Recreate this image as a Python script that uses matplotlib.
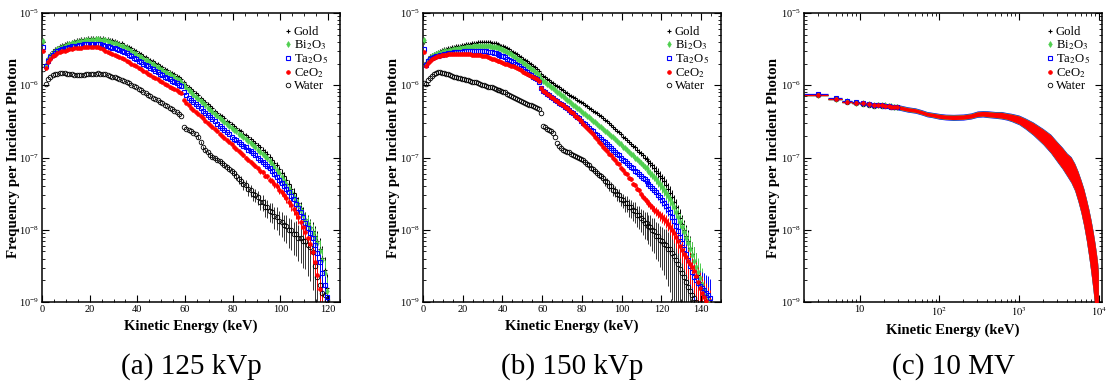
import numpy as np
import matplotlib
matplotlib.use('Agg')
import matplotlib.pyplot as plt
from matplotlib.lines import Line2D
from matplotlib.ticker import MultipleLocator, LogLocator, FuncFormatter, NullFormatter

plt.rcParams['font.family'] = ['Liberation Serif', 'DejaVu Serif']
plt.rcParams['mathtext.fontset'] = 'stix'

# ---------------- data (log10 of frequency per incident photon) ----------------
# (a) 125 kVp, 1 keV bins centred at 0.5 ... 119.5
energy_a = np.arange(120) + 0.5
gold_a = [-5.40, -5.70, -5.62, -5.57, -5.53, -5.50, -5.48, -5.46, -5.44, -5.43,
          -5.42, -5.41, -5.40, -5.39, -5.38, -5.37, -5.365, -5.36, -5.355, -5.35,
          -5.345, -5.34, -5.34, -5.34, -5.345, -5.35, -5.355, -5.36, -5.37, -5.38,
          -5.39, -5.40, -5.41, -5.42, -5.44, -5.455, -5.47, -5.49, -5.51, -5.53,
          -5.55, -5.57, -5.59, -5.61, -5.63, -5.65, -5.67, -5.69, -5.71, -5.73,
          -5.75, -5.77, -5.79, -5.81, -5.83, -5.85, -5.87, -5.89, -5.92, -5.96,
          -5.99, -6.02, -6.05, -6.08, -6.11, -6.14, -6.17, -6.20, -6.23, -6.26,
          -6.29, -6.32, -6.35, -6.38, -6.41, -6.43, -6.46, -6.49, -6.51, -6.54,
          -6.57, -6.59, -6.62, -6.64, -6.67, -6.69, -6.72, -6.74, -6.77, -6.80,
          -6.83, -6.86, -6.89, -6.92, -6.95, -6.99, -7.03, -7.07, -7.11, -7.16,
          -7.21, -7.26, -7.31, -7.37, -7.43, -7.49, -7.56, -7.63, -7.70, -7.78,
          -7.85, -7.90, -7.96, -8.02, -8.08, -8.16, -8.26, -8.39, -8.56, -8.80]
bi2o3_a = [-5.39, -5.72, -5.64, -5.59, -5.555, -5.525, -5.50, -5.48, -5.465, -5.45,
           -5.44, -5.43, -5.42, -5.41, -5.40, -5.395, -5.39, -5.385, -5.38, -5.375,
           -5.37, -5.37, -5.365, -5.365, -5.37, -5.375, -5.38, -5.39, -5.40, -5.41,
           -5.42, -5.43, -5.44, -5.455, -5.47, -5.49, -5.51, -5.53, -5.55, -5.57,
           -5.59, -5.61, -5.63, -5.65, -5.67, -5.69, -5.71, -5.73, -5.75, -5.77,
           -5.79, -5.81, -5.83, -5.85, -5.87, -5.89, -5.91, -5.93, -5.96, -6.00,
           -6.04, -6.07, -6.10, -6.13, -6.16, -6.19, -6.22, -6.25, -6.28, -6.31,
           -6.34, -6.37, -6.40, -6.43, -6.46, -6.48, -6.51, -6.54, -6.56, -6.59,
           -6.62, -6.64, -6.67, -6.69, -6.72, -6.74, -6.77, -6.80, -6.83, -6.86,
           -6.89, -6.92, -6.95, -6.98, -7.01, -7.05, -7.09, -7.13, -7.17, -7.22,
           -7.27, -7.32, -7.37, -7.42, -7.48, -7.54, -7.60, -7.66, -7.73, -7.80,
           -7.86, -7.92, -7.98, -8.04, -8.11, -8.19, -8.29, -8.42, -8.60, -8.85]
ta2o5_a = [-5.47, -5.74, -5.66, -5.61, -5.58, -5.55, -5.53, -5.51, -5.50, -5.49,
           -5.48, -5.47, -5.46, -5.455, -5.45, -5.445, -5.44, -5.435, -5.43, -5.43,
           -5.425, -5.425, -5.425, -5.425, -5.43, -5.44, -5.45, -5.46, -5.47, -5.48,
           -5.49, -5.50, -5.51, -5.525, -5.54, -5.56, -5.58, -5.60, -5.62, -5.64,
           -5.66, -5.68, -5.70, -5.72, -5.74, -5.76, -5.78, -5.80, -5.82, -5.84,
           -5.86, -5.88, -5.90, -5.92, -5.94, -5.955, -5.97, -5.99, -6.01, -6.10,
           -6.14, -6.17, -6.20, -6.23, -6.26, -6.29, -6.32, -6.35, -6.38, -6.41,
           -6.44, -6.47, -6.50, -6.53, -6.56, -6.59, -6.62, -6.65, -6.68, -6.71,
           -6.74, -6.76, -6.79, -6.81, -6.84, -6.86, -6.89, -6.91, -6.94, -6.97,
           -7.00, -7.03, -7.06, -7.09, -7.12, -7.15, -7.19, -7.23, -7.27, -7.31,
           -7.35, -7.39, -7.43, -7.48, -7.53, -7.58, -7.64, -7.70, -7.76, -7.83,
           -7.90, -7.97, -8.04, -8.12, -8.21, -8.32, -8.45, -8.60, -8.76, -8.93]
ceo2_a = [-5.52, -5.76, -5.68, -5.63, -5.60, -5.58, -5.56, -5.545, -5.53, -5.52,
          -5.51, -5.50, -5.495, -5.49, -5.485, -5.48, -5.48, -5.475, -5.475, -5.47,
          -5.47, -5.47, -5.47, -5.475, -5.48, -5.50, -5.52, -5.535, -5.55, -5.565,
          -5.58, -5.595, -5.61, -5.625, -5.64, -5.66, -5.68, -5.70, -5.72, -5.74,
          -5.76, -5.78, -5.80, -5.82, -5.84, -5.86, -5.88, -5.90, -5.92, -5.94,
          -5.96, -5.98, -6.00, -6.02, -6.04, -6.055, -6.07, -6.09, -6.11, -6.21,
          -6.25, -6.28, -6.31, -6.34, -6.37, -6.40, -6.43, -6.46, -6.49, -6.52,
          -6.55, -6.58, -6.61, -6.64, -6.67, -6.70, -6.73, -6.76, -6.79, -6.82,
          -6.85, -6.88, -6.91, -6.94, -6.97, -7.00, -7.03, -7.06, -7.09, -7.12,
          -7.15, -7.19, -7.20, -7.25, -7.26, -7.31, -7.32, -7.37, -7.39, -7.45,
          -7.48, -7.52, -7.56, -7.61, -7.66, -7.71, -7.77, -7.83, -7.89, -7.96,
          -8.03, -8.11, -8.20, -8.31, -8.45, -8.62, -8.82, -9.05, -9.30, -9.50]
water_a = [-5.77, -5.98, -5.92, -5.88, -5.86, -5.85, -5.84, -5.83, -5.83, -5.835,
           -5.84, -5.845, -5.85, -5.855, -5.86, -5.86, -5.855, -5.855, -5.85, -5.85,
           -5.845, -5.84, -5.84, -5.835, -5.84, -5.845, -5.85, -5.86, -5.87, -5.88,
           -5.89, -5.90, -5.91, -5.925, -5.94, -5.955, -5.97, -5.99, -6.01, -6.03,
           -6.05, -6.07, -6.09, -6.11, -6.13, -6.15, -6.17, -6.19, -6.21, -6.23,
           -6.25, -6.27, -6.29, -6.31, -6.33, -6.35, -6.37, -6.40, -6.43, -6.58,
           -6.60, -6.62, -6.64, -6.66, -6.68, -6.72, -6.79, -6.86, -6.90, -6.93,
           -6.96, -6.99, -7.01, -7.03, -7.05, -7.07, -7.10, -7.13, -7.16, -7.19,
           -7.22, -7.25, -7.30, -7.32, -7.37, -7.38, -7.44, -7.45, -7.51, -7.52,
           -7.55, -7.61, -7.62, -7.68, -7.69, -7.74, -7.75, -7.81, -7.82, -7.88,
           -7.89, -7.94, -7.95, -8.00, -8.01, -8.06, -8.06, -8.11, -8.11, -8.15,
           -8.15, -8.21, -8.24, -8.31, -8.50, -8.66, -8.77, -8.87, -8.91, -8.97]
# relative statistical errors
rel_err_metal_a = [0.0] * 80 + [
    0.03, 0.03, 0.03, 0.04, 0.04, 0.04, 0.05, 0.05, 0.05, 0.06,
    0.06, 0.07, 0.07, 0.08, 0.08, 0.09, 0.09, 0.10, 0.11, 0.12,
    0.12, 0.13, 0.14, 0.15, 0.16, 0.17, 0.18, 0.20, 0.21, 0.23,
    0.25, 0.27, 0.29, 0.32, 0.35, 0.38, 0.42, 0.46, 0.50, 0.55]
rel_err_water_a = [0.0] * 65 + [
    0.04, 0.04, 0.05, 0.05, 0.05, 0.06, 0.06, 0.07, 0.07, 0.08,
    0.08, 0.09, 0.09, 0.10, 0.11, 0.12, 0.13, 0.14, 0.15, 0.16,
    0.17, 0.18, 0.19, 0.20, 0.21, 0.22, 0.24, 0.25, 0.27, 0.28,
    0.30, 0.31, 0.33, 0.35, 0.36, 0.38, 0.40, 0.42, 0.44, 0.46,
    0.48, 0.50, 0.52, 0.55, 0.58, 0.60, 0.63, 0.66, 0.70, 0.74,
    0.78, 0.82, 0.86, 0.90, 0.92]

# (b) 150 kVp, 1 keV bins centred at 0.5 ... 144.5
energy_b = np.arange(145) + 0.5
gold_b = [-5.40, -5.68, -5.63, -5.60, -5.58, -5.565, -5.55, -5.535, -5.52, -5.51,
          -5.50, -5.495, -5.49, -5.48, -5.475, -5.47, -5.46, -5.455, -5.45, -5.445,
          -5.44, -5.435, -5.43, -5.425, -5.42, -5.415, -5.41, -5.405, -5.40, -5.40,
          -5.40, -5.40, -5.40, -5.405, -5.41, -5.415, -5.42, -5.43, -5.44, -5.45,
          -5.46, -5.475, -5.49, -5.505, -5.52, -5.535, -5.55, -5.57, -5.59, -5.61,
          -5.63, -5.65, -5.67, -5.69, -5.71, -5.73, -5.75, -5.77, -5.80, -5.84,
          -5.87, -5.89, -5.91, -5.93, -5.95, -5.97, -5.99, -6.01, -6.03, -6.05,
          -6.07, -6.09, -6.11, -6.13, -6.145, -6.16, -6.18, -6.20, -6.215, -6.23,
          -6.25, -6.27, -6.29, -6.31, -6.33, -6.35, -6.37, -6.39, -6.41, -6.43,
          -6.46, -6.48, -6.50, -6.52, -6.55, -6.58, -6.60, -6.63, -6.65, -6.68,
          -6.71, -6.73, -6.76, -6.78, -6.81, -6.84, -6.86, -6.89, -6.92, -6.94,
          -6.97, -7.00, -7.02, -7.05, -7.08, -7.11, -7.14, -7.18, -7.21, -7.25,
          -7.29, -7.33, -7.38, -7.43, -7.49, -7.55, -7.62, -7.69, -7.77, -7.84,
          -7.92, -8.00, -8.08, -8.16, -8.25, -8.34, -8.43, -8.52, -8.62, -8.72,
          -8.82, -8.90, -8.97, -9.05, -9.10]
bi2o3_b = [-5.38, -5.70, -5.65, -5.62, -5.60, -5.585, -5.57, -5.56, -5.55, -5.54,
           -5.53, -5.525, -5.52, -5.515, -5.51, -5.505, -5.50, -5.495, -5.49, -5.485,
           -5.48, -5.475, -5.47, -5.47, -5.465, -5.46, -5.46, -5.455, -5.455, -5.455,
           -5.455, -5.455, -5.455, -5.46, -5.465, -5.47, -5.475, -5.48, -5.49, -5.50,
           -5.51, -5.525, -5.54, -5.555, -5.57, -5.59, -5.61, -5.63, -5.65, -5.67,
           -5.69, -5.71, -5.73, -5.75, -5.77, -5.79, -5.81, -5.83, -5.86, -5.91,
           -5.94, -5.96, -5.98, -6.00, -6.02, -6.04, -6.065, -6.09, -6.11, -6.13,
           -6.155, -6.18, -6.20, -6.22, -6.245, -6.27, -6.29, -6.31, -6.335, -6.36,
           -6.38, -6.40, -6.42, -6.44, -6.47, -6.49, -6.51, -6.53, -6.56, -6.58,
           -6.60, -6.63, -6.65, -6.67, -6.70, -6.72, -6.75, -6.77, -6.80, -6.82,
           -6.85, -6.87, -6.90, -6.92, -6.95, -6.97, -7.00, -7.02, -7.05, -7.07,
           -7.10, -7.13, -7.15, -7.18, -7.21, -7.24, -7.27, -7.30, -7.34, -7.37,
           -7.41, -7.45, -7.49, -7.53, -7.58, -7.63, -7.69, -7.75, -7.82, -7.89,
           -7.96, -8.03, -8.11, -8.19, -8.27, -8.35, -8.43, -8.51, -8.59, -8.67,
           -8.75, -8.83, -8.90, -8.97, -9.05]
ta2o5_b = [-5.50, -5.72, -5.67, -5.64, -5.62, -5.61, -5.60, -5.59, -5.58, -5.575,
           -5.57, -5.565, -5.56, -5.555, -5.55, -5.545, -5.54, -5.54, -5.535, -5.535,
           -5.53, -5.53, -5.53, -5.525, -5.525, -5.525, -5.525, -5.525, -5.525, -5.525,
           -5.53, -5.53, -5.535, -5.54, -5.545, -5.55, -5.56, -5.57, -5.58, -5.59,
           -5.60, -5.615, -5.63, -5.645, -5.66, -5.68, -5.70, -5.72, -5.74, -5.76,
           -5.78, -5.80, -5.82, -5.84, -5.86, -5.88, -5.90, -5.92, -5.95, -6.04,
           -6.08, -6.10, -6.12, -6.14, -6.16, -6.18, -6.20, -6.22, -6.24, -6.26,
           -6.28, -6.30, -6.32, -6.34, -6.37, -6.39, -6.41, -6.44, -6.46, -6.49,
           -6.52, -6.54, -6.57, -6.59, -6.62, -6.64, -6.67, -6.69, -6.72, -6.74,
           -6.77, -6.79, -6.82, -6.84, -6.87, -6.89, -6.92, -6.95, -6.97, -7.00,
           -7.03, -7.05, -7.08, -7.10, -7.13, -7.15, -7.18, -7.20, -7.23, -7.25,
           -7.28, -7.30, -7.33, -7.36, -7.39, -7.42, -7.45, -7.48, -7.52, -7.55,
           -7.59, -7.63, -7.67, -7.71, -7.76, -7.82, -7.88, -7.95, -8.02, -8.10,
           -8.18, -8.26, -8.34, -8.42, -8.50, -8.58, -8.65, -8.70, -8.74, -8.78,
           -8.81, -8.84, -8.87, -8.90, -8.94]
ceo2_b = [-5.54, -5.74, -5.69, -5.66, -5.64, -5.62, -5.61, -5.60, -5.59, -5.585,
          -5.58, -5.575, -5.57, -5.57, -5.565, -5.565, -5.565, -5.565, -5.565, -5.565,
          -5.565, -5.565, -5.57, -5.57, -5.575, -5.575, -5.58, -5.58, -5.585, -5.59,
          -5.595, -5.60, -5.61, -5.62, -5.63, -5.64, -5.65, -5.66, -5.67, -5.68,
          -5.69, -5.70, -5.71, -5.72, -5.73, -5.74, -5.75, -5.765, -5.78, -5.795,
          -5.81, -5.825, -5.84, -5.855, -5.87, -5.885, -5.90, -5.92, -5.94, -6.04,
          -6.08, -6.10, -6.12, -6.14, -6.16, -6.18, -6.20, -6.22, -6.24, -6.26,
          -6.28, -6.30, -6.32, -6.34, -6.37, -6.39, -6.42, -6.44, -6.47, -6.50,
          -6.53, -6.56, -6.59, -6.62, -6.65, -6.68, -6.71, -6.75, -6.78, -6.81,
          -6.85, -6.88, -6.91, -6.95, -6.96, -7.01, -7.03, -7.08, -7.09, -7.14,
          -7.17, -7.21, -7.23, -7.28, -7.30, -7.36, -7.38, -7.43, -7.45, -7.51,
          -7.54, -7.57, -7.60, -7.63, -7.66, -7.69, -7.72, -7.74, -7.77, -7.80,
          -7.82, -7.85, -7.88, -7.92, -7.96, -8.00, -8.05, -8.10, -8.16, -8.22,
          -8.28, -8.33, -8.38, -8.43, -8.47, -8.51, -8.57, -8.64, -8.72, -8.80,
          -8.87, -8.93, -8.98, -9.05, -9.10]
water_b = [-5.97, -5.98, -5.93, -5.90, -5.87, -5.85, -5.83, -5.82, -5.82, -5.825,
           -5.83, -5.84, -5.85, -5.86, -5.87, -5.88, -5.89, -5.895, -5.90, -5.91,
           -5.92, -5.925, -5.93, -5.94, -5.95, -5.955, -5.96, -5.97, -5.98, -5.99,
           -6.00, -6.01, -6.02, -6.025, -6.03, -6.04, -6.05, -6.06, -6.07, -6.08,
           -6.09, -6.10, -6.115, -6.13, -6.145, -6.16, -6.175, -6.19, -6.205, -6.22,
           -6.235, -6.25, -6.26, -6.27, -6.28, -6.29, -6.30, -6.31, -6.33, -6.38,
           -6.56, -6.58, -6.60, -6.62, -6.64, -6.66, -6.72, -6.80, -6.84, -6.87,
           -6.89, -6.91, -6.92, -6.93, -6.95, -6.96, -6.98, -6.99, -7.01, -7.02,
           -7.04, -7.06, -7.09, -7.11, -7.14, -7.16, -7.19, -7.21, -7.24, -7.26,
           -7.29, -7.33, -7.34, -7.39, -7.40, -7.45, -7.46, -7.51, -7.52, -7.57,
           -7.59, -7.63, -7.63, -7.68, -7.69, -7.73, -7.74, -7.79, -7.80, -7.84,
           -7.86, -7.90, -7.91, -7.95, -7.96, -8.01, -8.02, -8.08, -8.09, -8.14,
           -8.16, -8.20, -8.21, -8.26, -8.27, -8.32, -8.36, -8.42, -8.48, -8.54,
           -8.60, -8.66, -8.72, -8.79, -8.85, -8.90, -8.95, -9.00, -9.05, -9.10,
           -9.20, -9.20, -9.20, -9.20, -9.20]
rel_err_metal_b = [0.0] * 95 + [
    0.03, 0.03, 0.03, 0.04, 0.04, 0.04, 0.05, 0.05, 0.05, 0.06,
    0.06, 0.07, 0.07, 0.08, 0.08, 0.09, 0.09, 0.10, 0.11, 0.12,
    0.12, 0.13, 0.14, 0.15, 0.16, 0.17, 0.18, 0.20, 0.21, 0.23,
    0.25, 0.27, 0.29, 0.31, 0.33, 0.35, 0.38, 0.41, 0.44, 0.47,
    0.50, 0.53, 0.56, 0.60, 0.64, 0.68, 0.72, 0.76, 0.80, 0.84]
rel_err_water_b = [0.0] * 75 + [
    0.04, 0.04, 0.05, 0.05, 0.05, 0.06, 0.06, 0.07, 0.07, 0.08,
    0.08, 0.09, 0.09, 0.10, 0.11, 0.12, 0.13, 0.14, 0.15, 0.16,
    0.17, 0.18, 0.19, 0.20, 0.21, 0.22, 0.24, 0.25, 0.27, 0.28,
    0.30, 0.31, 0.33, 0.35, 0.36, 0.38, 0.40, 0.42, 0.44, 0.46,
    0.48, 0.50, 0.52, 0.55, 0.58, 0.60, 0.63, 0.66, 0.70, 0.74,
    0.78, 0.82, 0.86, 0.90, 0.92, 0.94, 0.95, 0.96, 0.97, 0.98,
    0.98, 0.98, 0.98, 0.98, 0.98, 0.98, 0.98, 0.98, 0.98, 0.98]

# (c) 10 MV: low-energy 2 keV bins, then the dense overlapping band
energy_c = [3, 5, 7, 9, 11, 13, 15, 17, 19, 21, 23, 25, 27, 29]
gold_c = [-6.14, -6.19, -6.23, -6.24, -6.25, -6.265, -6.27, -6.27, -6.28, -6.285, -6.29, -6.29, -6.295, -6.30]
bi2o3_c = [-6.14, -6.19, -6.22, -6.24, -6.25, -6.26, -6.27, -6.275, -6.28, -6.28, -6.29, -6.29, -6.30, -6.30]
ta2o5_c = [-6.12, -6.17, -6.22, -6.235, -6.25, -6.26, -6.275, -6.28, -6.28, -6.29, -6.29, -6.30, -6.30, -6.305]
ceo2_c = [-6.14, -6.19, -6.23, -6.24, -6.25, -6.26, -6.27, -6.27, -6.28, -6.285, -6.29, -6.295, -6.30, -6.30]
water_c = [-6.14, -6.19, -6.23, -6.24, -6.26, -6.28, -6.29, -6.28, -6.285, -6.29, -6.29, -6.30, -6.30, -6.30]
band_energy_c = [29, 40, 50, 60, 70, 80, 100, 120, 150, 200, 250, 300, 350, 400, 500, 600, 700,
                 800, 1000, 1200, 1500, 2000, 2500, 3000, 3500, 4000, 4500, 5000, 5500, 6000,
                 6500, 7000, 7500, 8000, 8500, 9000, 9400, 9700, 9900]
band_center_c = [-6.30, -6.335, -6.35, -6.375, -6.40, -6.41, -6.43, -6.44, -6.445, -6.44, -6.425,
                 -6.40, -6.395, -6.40, -6.41, -6.415, -6.43, -6.445, -6.48, -6.53, -6.60, -6.71,
                 -6.81, -6.92, -7.01, -7.10, -7.17, -7.27, -7.40, -7.54, -7.69, -7.86, -8.04,
                 -8.23, -8.43, -8.65, -8.85, -9.02, -9.20]
band_halfwidth_c = [0.025, 0.025, 0.025, 0.025, 0.025, 0.025, 0.028, 0.028, 0.03, 0.03, 0.03, 0.032,
                    0.032, 0.035, 0.035, 0.04, 0.04, 0.045, 0.055, 0.065, 0.08, 0.10, 0.12, 0.13,
                    0.14, 0.15, 0.17, 0.18, 0.20, 0.22, 0.25, 0.28, 0.32, 0.36, 0.40, 0.45,
                    0.50, 0.55, 0.60]

labels = ['Gold', 'Bi$_2$O$_3$', 'Ta$_2$O$_5$', 'CeO$_2$', 'Water']
captions = ['(a) 125 kVp', '(b) 150 kVp', '(c) 10 MV']

GREEN = '#4fcf4f'
styles = [dict(marker='+', color='black', ms=3.5, mew=0.8, mfc='black'),
          dict(marker='d', color=GREEN, ms=3.0, mew=0.5, mfc=GREEN),
          dict(marker='s', color='blue', ms=3.3, mew=0.8, mfc='none'),
          dict(marker='o', color='red', ms=2.7, mew=0.5, mfc='red'),
          dict(marker='o', color='black', ms=3.3, mew=0.6, mfc='none')]
draw_order = [4, 0, 1, 2, 3]


def style_axes(ax, ylab_x):
    ax.set_yscale('log')
    ax.set_ylim(1e-9, 1e-5)
    ax.yaxis.set_major_locator(LogLocator(base=10, numticks=10))
    ax.yaxis.set_minor_locator(LogLocator(base=10, subs=np.arange(2, 10), numticks=20))
    ax.yaxis.set_minor_formatter(NullFormatter())
    ax.tick_params(which='both', direction='in', top=True, right=True, labelsize=7.5, pad=2)
    ax.tick_params(which='major', length=5, width=0.8)
    ax.tick_params(which='minor', length=2.5, width=0.6)
    for s in ax.spines.values():
        s.set_linewidth(1.1)
    ax.set_xlabel('Kinetic Energy (keV)', fontsize=10.5, fontweight='bold', labelpad=4)
    ax.set_ylabel('Frequency per Incident Photon', fontsize=10.8, fontweight='bold')
    ax.yaxis.set_label_coords(ylab_x, 0.5)
    handles = [Line2D([], [], linestyle='none', **st) for st in styles]
    ax.legend(handles, labels, loc='upper left', bbox_to_anchor=(0.815, 0.955), frameon=False,
              fontsize=9.2, handlelength=0.5, handletextpad=0.2, labelspacing=0.02,
              borderpad=0, borderaxespad=0)


fig = plt.figure(figsize=(11.08, 3.89), dpi=100)
lefts = [42 / 1108, 423 / 1108, 804 / 1108]
bottom = 1 - 302 / 389
height = 289 / 389
width = 298 / 1108
axes = [fig.add_axes([l, bottom, width, height]) for l in lefts]

panels = [(axes[0], energy_a, [gold_a, bi2o3_a, ta2o5_a, ceo2_a, water_a], rel_err_metal_a, rel_err_water_a, 125, -0.074),
          (axes[1], energy_b, [gold_b, bi2o3_b, ta2o5_b, ceo2_b, water_b], rel_err_metal_b, rel_err_water_b, 150, -0.078)]
for ax, en, series, err_m, err_w, xmax, ylx in panels:
    for i in draw_order:
        y = 10 ** np.array(series[i])
        rel = np.array(err_w if i == 4 else err_m)
        st = styles[i]
        ecol = '#333333' if i == 4 else st['color']
        ax.errorbar(en, y, yerr=rel * y, fmt='none', ecolor=ecol, elinewidth=0.7, capsize=0, zorder=2)
        ax.plot(en, y, linestyle='none', zorder=3, **st)
    style_axes(ax, ylx)
    ax.set_xlim(0, xmax)
    ax.xaxis.set_major_locator(MultipleLocator(20))
    ax.xaxis.set_minor_locator(MultipleLocator(5))

# panel (c)
axc = axes[2]
bx = np.array(band_energy_c)
bc = np.array(band_center_c)
bh = np.array(band_halfwidth_c)
axc.fill_between(bx, 10 ** (bc - bh - 0.012), 10 ** (bc + bh + 0.012), color='blue', lw=0, zorder=2)
axc.fill_between(bx, 10 ** (bc - bh - 0.005), 10 ** (bc + bh + 0.005), color=GREEN, lw=0, zorder=2)
axc.fill_between(bx, 10 ** (bc - bh), 10 ** (bc + bh), color='red', lw=0, zorder=3)
ec = np.array(energy_c, dtype=float)
for i in draw_order:
    y = 10 ** np.array([gold_c, bi2o3_c, ta2o5_c, ceo2_c, water_c][i])
    st = styles[i]
    axc.errorbar(ec, y, xerr=1.0, fmt='none', ecolor=st['color'], elinewidth=0.9, capsize=0, zorder=2)
    axc.plot(ec, y, linestyle='none', zorder=4, **st)
style_axes(axc, -0.08)
axc.set_xscale('log')
axc.set_xlim(2, 1.1e4)
axc.xaxis.set_major_locator(LogLocator(base=10, numticks=10))
axc.xaxis.set_minor_locator(LogLocator(base=10, subs=np.arange(2, 10), numticks=20))
axc.xaxis.set_minor_formatter(NullFormatter())
axc.xaxis.set_major_formatter(FuncFormatter(
    lambda v, p: '10' if abs(v - 10) < 1e-6 else r'$10^{%d}$' % round(np.log10(v))))

for ax, cap in zip(axes, captions):
    pos = ax.get_position()
    fig.text(pos.x0 + pos.width / 2, 1 - 367 / 389, cap, ha='center', va='center', fontsize=21)

fig.savefig('out.png', dpi=100)
